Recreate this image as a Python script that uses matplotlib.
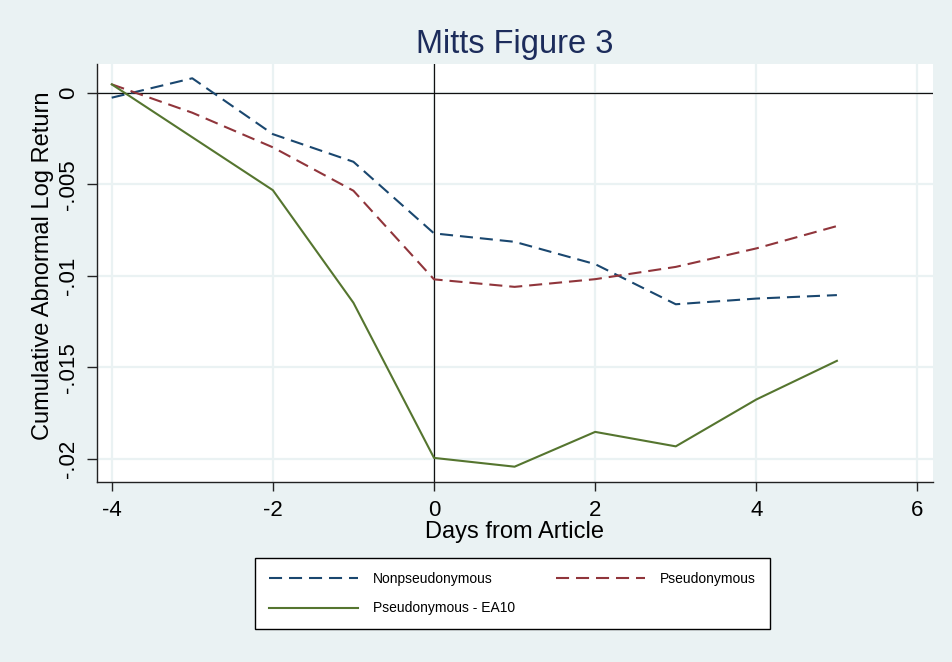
import matplotlib
matplotlib.use("Agg")
import matplotlib.pyplot as plt
from matplotlib.lines import Line2D

# ---------------- data ----------------
days = [-4, -3, -2, -1, 0, 1, 2, 3, 4, 5]
nonpseudonymous = [-0.00027, 0.00079, -0.00226, -0.00377, -0.00768,
                   -0.00814, -0.00936, -0.01155, -0.01124, -0.01105]
pseudonymous = [0.00046, -0.00109, -0.00298, -0.00535, -0.01019,
                -0.01060, -0.01018, -0.00951, -0.00850, -0.00728]
pseudonymous_ea10 = [0.00046, -0.00243, -0.00532, -0.01147, -0.01994,
                     -0.02042, -0.01852, -0.01931, -0.01675, -0.01464]

x_ticks = [-4, -2, 0, 2, 4, 6]
y_ticks = [0, -0.005, -0.01, -0.015, -0.02]
y_tick_labels = ["0", "-.005", "-.01", "-.015", "-.02"]

series_labels = ["Nonpseudonymous", "Pseudonymous", "Pseudonymous - EA10"]
title_text = "Mitts Figure 3"
x_title = "Days from Article"
y_title = "Cumulative Abnormal Log Return"

# ---------------- style ----------------
plt.rcParams["font.family"] = ["Liberation Sans", "DejaVu Sans"]
plt.rcParams["lines.scale_dashes"] = False

BG = "#EAF2F3"
NAVY = "#1A476F"
MAROON = "#90353B"
GREEN = "#55752F"
TITLE_C = "#1C2C5B"

W, H = 953, 662
fig = plt.figure(figsize=(W / 100, H / 100), dpi=100, facecolor=BG)

ax_l, ax_r, ax_t, ax_b = 96.7, 932.8, 64.0, 481.7
ax = fig.add_axes([ax_l / W, 1 - ax_b / H, (ax_r - ax_l) / W, (ax_b - ax_t) / H])
ax.set_facecolor("white")

dash = (0, (9.4, 5.0))
l1, = ax.plot(days, nonpseudonymous, color=NAVY, lw=1.5, linestyle=dash, zorder=3)
l2, = ax.plot(days, pseudonymous, color=MAROON, lw=1.5, linestyle=dash, zorder=3)
l3, = ax.plot(days, pseudonymous_ea10, color=GREEN, lw=1.5, zorder=3)

ax.axhline(0, color="#111111", lw=0.9, zorder=2)
ax.axvline(0, color="#111111", lw=0.9, zorder=2)

ax.set_xlim(-4.186, 6.19)
ax.set_ylim(-0.02124, 0.00157)
ax.set_xticks(x_ticks)
ax.set_xticklabels([str(v) for v in x_ticks])
ax.set_yticks(y_ticks)
ax.set_yticklabels(y_tick_labels)

ax.grid(True, color=BG, lw=1.6, zorder=1)
ax.set_axisbelow(True)

for s in ["top", "right"]:
    ax.spines[s].set_visible(False)
for s in ["left", "bottom"]:
    ax.spines[s].set_color("#222222")
    ax.spines[s].set_linewidth(1.0)

ax.tick_params(axis="x", direction="out", length=6.5, width=1.0, color="#222222",
               labelsize=16, pad=6.5, labelcolor="black")
ax.tick_params(axis="y", direction="out", length=7, width=1.0, color="#222222",
               labelsize=16, pad=5.5, labelcolor="black", labelrotation=90)
for lab in ax.get_yticklabels():
    lab.set_va("center")

# titles
fig.text(514.7 / W, 1 - 52.7 / H, title_text, ha="center", va="baseline",
         fontsize=23.5, color=TITLE_C)
fig.text(514.7 / W, 1 - 538.3 / H, x_title, ha="center", va="baseline",
         fontsize=17, color="black")
fig.text(43 / W, 1 - 266 / H, y_title, ha="center", va="center", rotation=90,
         fontsize=17, color="black")

# legend
leg = fig.legend([l1, l3, l2],
                 [series_labels[0], series_labels[2], series_labels[1]],
                 loc="center", bbox_to_anchor=(512.5 / W, 1 - 593.5 / H),
                 ncol=2, fontsize=10, frameon=True, fancybox=False,
                 edgecolor="black", facecolor="white", framealpha=1,
                 handlelength=6.4, handletextpad=1.07, columnspacing=3.0,
                 labelspacing=1.15, borderpad=1.0)
leg.get_frame().set_linewidth(1.0)

fig.savefig("out.png", dpi=100, facecolor=BG)
